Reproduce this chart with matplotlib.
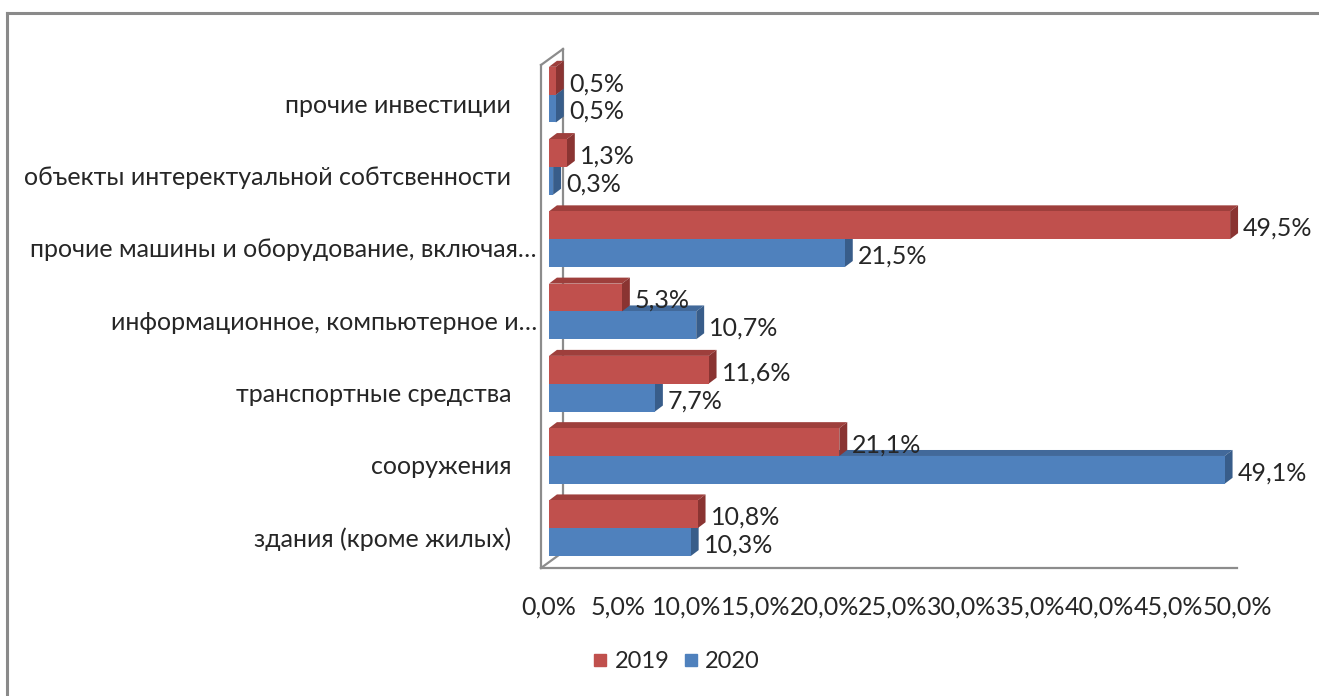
import matplotlib
matplotlib.use("Agg")
import matplotlib.pyplot as plt
from matplotlib.patches import Polygon, Rectangle
from matplotlib.lines import Line2D
from matplotlib.ticker import FuncFormatter, MultipleLocator
import matplotlib.transforms as mtransforms

plt.rcParams['font.family'] = ['Lato', 'DejaVu Sans']

categories = [
    "здания (кроме жилых)    ",
    "сооружения    ",
    "транспортные средства    ",
    "информационное, компьютерное и…",
    "прочие машины и оборудование, включая…",
    "объекты интеректуальной собтсвенности    ",
    "прочие инвестиции    ",
]
values_2019 = [10.8, 21.1, 11.6, 5.3, 49.5, 1.3, 0.5]
values_2020 = [10.3, 49.1, 7.7, 10.7, 21.5, 0.3, 0.5]
series_names = ["2019", "2020"]

RED = "#C0504D"; RED_TOP = "#9E3F3C"; RED_SIDE = "#8A3432"
BLUE = "#4F81BD"; BLUE_TOP = "#42699A"; BLUE_SIDE = "#385D8A"
TXT = "#262626"
WALL = "#8C8C8C"
FS = 18

W, H = 1319, 696
DPI = 100
fig = plt.figure(figsize=(W / DPI, H / DPI), dpi=DPI)
fig.patch.set_facecolor("white")

# outer frame
fig.add_artist(Line2D([7 / W, 7 / W], [0, 1 - 13 / H], color="#8A8A8A", lw=2.2))
fig.add_artist(Line2D([7 / W, 1], [1 - 13 / H, 1 - 13 / H], color="#8A8A8A", lw=2.2))

ax_left, ax_right = 541, 1237
ax_top, ax_bot = 65, 568
ax = fig.add_axes([ax_left / W, 1 - ax_bot / H, (ax_right - ax_left) / W, (ax_bot - ax_top) / H])
ax.set_xlim(-0.58, 49.6)
ax.set_ylim(-0.43, 6.53)
ax.patch.set_alpha(0)

for s in ["top", "right"]:
    ax.spines[s].set_visible(False)
for s in ["left", "bottom"]:
    ax.spines[s].set_color(WALL)
    ax.spines[s].set_linewidth(1.6)

# back wall
dpx, dpy = 22, 16
off = mtransforms.ScaledTranslation(dpx / DPI, dpy / DPI, fig.dpi_scale_trans)
ax.add_line(Line2D([0, 0], [0, 1], transform=ax.transAxes + off, color=WALL, lw=1.6, clip_on=False))
ax.add_line(Line2D([0, dpx / (ax_right - ax_left)], [1, 1 + dpy / (ax_bot - ax_top)],
                   transform=ax.transAxes, color=WALL, lw=1.6, clip_on=False))
ax.add_line(Line2D([0, dpx / (ax_right - ax_left)], [0, dpy / (ax_bot - ax_top)],
                   transform=ax.transAxes, color=WALL, lw=1.6, clip_on=False))

# 3D bars
bh = 0.385
gc = 0.12
bdx, bdy = 8, 6


def faces(v, y0, y1, face, top, side, z):
    ax.add_patch(Rectangle((0, y0), v, y1 - y0, facecolor=face, edgecolor="none", zorder=z))
    trd = ax.transData
    inv = trd.inverted()
    p0 = trd.transform((0, y1)); p1 = trd.transform((v, y1))
    b0 = inv.transform((p0[0] + bdx, p0[1] + bdy)); b1 = inv.transform((p1[0] + bdx, p1[1] + bdy))
    ax.add_patch(Polygon([(0, y1), (v, y1), tuple(b1), tuple(b0)], closed=True,
                         facecolor=top, edgecolor="none", zorder=z - 0.5, clip_on=False))
    q0 = trd.transform((v, y0))
    c0 = inv.transform((q0[0] + bdx, q0[1] + bdy))
    ax.add_patch(Polygon([(v, y0), (v, y1), tuple(b1), tuple(c0)], closed=True,
                         facecolor=side, edgecolor="none", zorder=z - 0.5, clip_on=False))


fmt = lambda v: f"{v:.1f}%".replace(".", ",")
lab_off = mtransforms.ScaledTranslation(13 / DPI, -3 / DPI, fig.dpi_scale_trans)
for i, (r, b) in enumerate(zip(values_2019, values_2020)):
    c = i + gc
    faces(b, c - bh, c, BLUE, BLUE_TOP, BLUE_SIDE, 3)
    faces(r, c, c + bh, RED, RED_TOP, RED_SIDE, 5)
    ax.text(r, c + bh / 2, fmt(r), transform=ax.transData + lab_off, va="center", ha="left",
            fontsize=FS, color=TXT, zorder=10, clip_on=False)
    ax.text(b, c - bh / 2, fmt(b), transform=ax.transData + lab_off, va="center", ha="left",
            fontsize=FS, color=TXT, zorder=10, clip_on=False)

ax.set_yticks(range(len(categories)))
ax.set_yticklabels(categories, fontsize=FS, color=TXT)
ax.set_xticks(range(0, 55, 5))
ax.xaxis.set_major_formatter(FuncFormatter(lambda v, p: fmt(v)))
ax.tick_params(axis="x", length=0, pad=20, labelsize=FS, labelcolor=TXT)
ax.tick_params(axis="y", length=0, pad=3)

handles = [Line2D([], [], marker="s", linestyle="none", markersize=9, color=RED, label=series_names[0]),
           Line2D([], [], marker="s", linestyle="none", markersize=9, color=BLUE, label=series_names[1])]
fig.legend(handles=handles, loc="center", bbox_to_anchor=(673 / W, 1 - 662 / H), ncol=2,
           frameon=False, fontsize=17, handletextpad=0.0, columnspacing=0.3, handlelength=1.2,
           labelcolor=TXT)

fig.savefig("out.png", dpi=DPI)
